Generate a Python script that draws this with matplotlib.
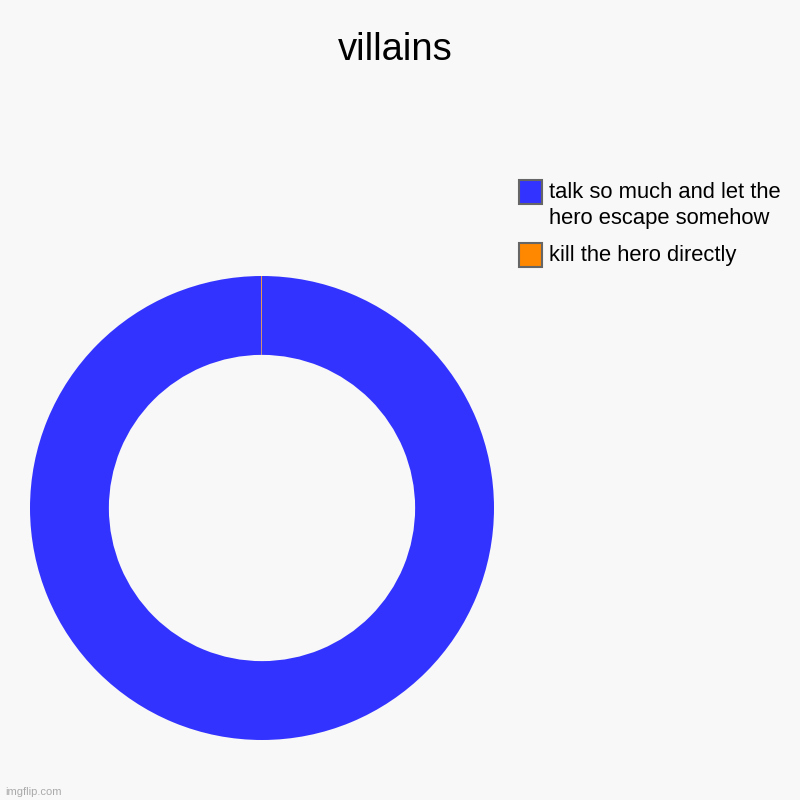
import matplotlib as mpl
mpl.use('Agg')

import matplotlib.pyplot as plt
from matplotlib.patches import Rectangle

plt.rcParams['font.family'] = ['Liberation Sans', 'DejaVu Sans']

title = 'villains'
labels = ['talk so much and let the\nhero escape somehow', 'kill the hero directly']
values = [1999, 1]
colors = ['#3333ff', '#ff8800']

bg = '#f8f8f8'
W = H = 800

fig = plt.figure(figsize=(8, 8), dpi=100, facecolor=bg)
fig.text(0.494, 1 - 50 / H, title, fontsize=27.5, ha='center', va='center')

ax = fig.add_axes([30 / W, 1 - 740 / H, 464 / W, 464 / H])
ax.set_facecolor(bg)
ax.pie(values, colors=colors, startangle=90, counterclock=False,
       radius=1, wedgeprops=dict(width=0.34, linewidth=0))
ax.set_xlim(-1, 1)
ax.set_ylim(-1, 1)
ax.set_aspect('equal')
ax.axis('off')

# legend drawn by hand so the swatch sits on the first text line
legend_tops = [180, 243]
for lab, c, top in zip(labels, colors, legend_tops):
    fig.patches.append(Rectangle((518.5 / W, 1 - (top + 23.5) / H), 23 / W, 23 / H,
                                 transform=fig.transFigure, facecolor=c,
                                 edgecolor='#666666', linewidth=1.5))
    fig.text(549 / W, 1 - (top + 2.5) / H, lab, fontsize=15.8, va='top', ha='left',
             linespacing=1.3)

fig.text(0.006, 0.006, 'imgflip.com', fontsize=8, color='#aaaaaa')

fig.savefig('out.png', facecolor=bg)
